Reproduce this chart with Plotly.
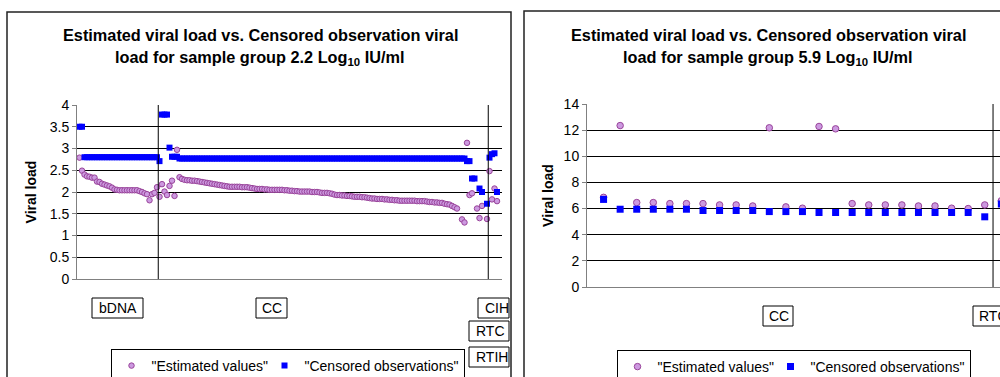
import plotly.graph_objects as go

# ---------------- data ----------------
# Left chart: sample group 2.2 Log10 IU/ml  (x = sample index)
left_x = list(range(1, 169))
left_estimated = [
    2.79, 2.49, 2.40, 2.36, 2.35, 2.33, 2.33, 2.24, 2.23, 2.19,   # 1-10
    2.17, 2.15, 2.13, 2.10, 2.06, 2.05, 2.04, 2.04, 2.04, 2.04,   # 11-20
    2.04, 2.04, 2.04, 2.04, 2.02, 2.00, 1.97, 1.95, 1.81, 1.95,   # 21-30
    1.98, 2.11, 1.89, 2.18, 2.01, 1.93, 2.14, 2.26, 1.91, 2.97,   # 31-40
    2.34, 2.30, 2.28, 2.27, 2.27, 2.26, 2.26, 2.25, 2.24, 2.23,   # 41-50
    2.22, 2.21, 2.20, 2.19, 2.18, 2.17, 2.16, 2.15, 2.14, 2.13,   # 51-60
    2.12, 2.12, 2.12, 2.12, 2.12, 2.11, 2.11, 2.11, 2.10, 2.09,   # 61-70
    2.08, 2.07, 2.07, 2.07, 2.06, 2.06, 2.05, 2.05, 2.05, 2.05,   # 71-80
    2.05, 2.05, 2.04, 2.04, 2.03, 2.03, 2.02, 2.02, 2.01, 2.01,   # 81-90
    2.01, 2.01, 2.01, 2.00, 2.00, 2.00, 1.99, 1.98, 1.98, 1.98,   # 91-100
    1.97, 1.96, 1.94, 1.93, 1.93, 1.92, 1.92, 1.91, 1.91, 1.90,   # 101-110
    1.89, 1.89, 1.89, 1.88, 1.88, 1.87, 1.86, 1.85, 1.85, 1.84,   # 111-120
    1.84, 1.84, 1.83, 1.83, 1.82, 1.82, 1.81, 1.81, 1.80, 1.80,   # 121-130
    1.80, 1.80, 1.80, 1.80, 1.80, 1.79, 1.79, 1.79, 1.79, 1.78,   # 131-140
    1.77, 1.77, 1.76, 1.76, 1.75, 1.75, 1.73, 1.72, 1.71, 1.68,   # 141-150
    1.65, 1.62, None, 1.37, 1.30, 3.13, 1.93, 1.97, None, 1.62,   # 151-160
    1.40, 1.68, None, 1.38, 2.48, 1.83, 2.08, 1.79,               # 161-168
]
left_censored = [
    3.50, 3.50, 2.80, 2.80, 2.80, 2.80, 2.80, 2.80, 2.80, 2.80,   # 1-10
    2.80, 2.80, 2.80, 2.80, 2.80, 2.80, 2.80, 2.80, 2.80, 2.80,   # 11-20
    2.80, 2.80, 2.80, 2.80, 2.80, 2.80, 2.80, 2.80, 2.80, 2.80,   # 21-30
    2.80, 2.80, 2.71, 3.78, 3.78, 3.78, 3.02, 2.81, 2.81, 2.81,   # 31-40
    2.77, 2.77, 2.77, 2.77, 2.77, 2.77, 2.77, 2.77, 2.77, 2.77,   # 41-50
    2.77, 2.77, 2.77, 2.77, 2.77, 2.77, 2.77, 2.77, 2.77, 2.77,   # 51-60
    2.77, 2.77, 2.77, 2.77, 2.77, 2.77, 2.77, 2.77, 2.77, 2.77,   # 61-70
    2.77, 2.77, 2.77, 2.77, 2.77, 2.77, 2.77, 2.77, 2.77, 2.77,   # 71-80
    2.77, 2.77, 2.77, 2.77, 2.77, 2.77, 2.77, 2.77, 2.77, 2.77,   # 81-90
    2.77, 2.77, 2.77, 2.77, 2.77, 2.77, 2.77, 2.77, 2.77, 2.77,   # 91-100
    2.77, 2.77, 2.77, 2.77, 2.77, 2.77, 2.77, 2.77, 2.77, 2.77,   # 101-110
    2.77, 2.77, 2.77, 2.77, 2.77, 2.77, 2.77, 2.77, 2.77, 2.77,   # 111-120
    2.77, 2.77, 2.77, 2.77, 2.77, 2.77, 2.77, 2.77, 2.77, 2.77,   # 121-130
    2.77, 2.77, 2.77, 2.77, 2.77, 2.77, 2.77, 2.77, 2.77, 2.77,   # 131-140
    2.77, 2.77, 2.77, 2.77, 2.77, 2.77, 2.77, 2.77, 2.77, 2.77,   # 141-150
    2.77, 2.77, 2.77, 2.77, 2.77, 2.71, 2.71, 2.31, 2.31, None,   # 151-160
    2.08, 2.00, None, 1.73, 2.79, 2.87, 2.89, 2.00,               # 161-168
]
left_group_bounds = [32.5, 164.5]
left_group_labels = ["bDNA", "CC", "CIH", "RTC", "RTIH"]
left_yticks = [0, 0.5, 1, 1.5, 2, 2.5, 3, 3.5, 4]

# Right chart: sample group 5.9 Log10 IU/ml
right_x = list(range(1, 26))
right_estimated = [6.86, 12.35, 6.46, 6.46, 6.38, 6.38, 6.38, 6.28, 6.28, 6.20,
                   12.18, 6.13, 6.03, 12.28, 12.10, 6.38, 6.28, 6.28, 6.28, 6.20,
                   6.20, 6.03, 6.00, 6.28, 6.60]
right_censored = [6.70, 5.95, 5.95, 5.95, 5.95, 5.95, 5.85, 5.85, 5.85, 5.85,
                  5.77, 5.77, 5.77, 5.70, 5.70, 5.70, 5.70, 5.70, 5.70, 5.70,
                  5.70, 5.70, 5.70, 5.37, 6.35]
right_group_bounds = [24.5]
right_group_labels = ["CC", "RTC"]
right_yticks = [0, 2, 4, 6, 8, 10, 12, 14]

series_names = ['"Estimated values"', '"Censored observations"']
left_title = ["Estimated viral load vs. Censored observation viral",
              "load for sample group 2.2 Log<sub>10</sub> IU/ml"]
right_title = ["Estimated viral load vs. Censored observation viral",
               "load for sample group 5.9 Log<sub>10</sub> IU/ml"]

# ---------------- styling ----------------
W, H = 1000, 377
FONT = "Liberation Sans, Arial, sans-serif"
EST_FILL = "#cc99e0"
EST_LINE = "#99449a"
CENS = "#0000ff"


def px(x):
    return x / W


def py(y):
    return 1 - y / H


fig = go.Figure()

for xs, est, cens, xa, ya, lg, csize, ssize in [
    (left_x, left_estimated, left_censored, "x", "y", "legend", 5.5, 6),
    (right_x, right_estimated, right_censored, "x2", "y2", "legend2", 6.5, 7),
]:
    fig.add_trace(go.Scatter(
        x=xs, y=est, mode="markers", name=series_names[0],
        marker=dict(symbol="circle", size=csize, color=EST_FILL,
                    line=dict(color=EST_LINE, width=1)),
        legendwidth=108,
        xaxis=xa, yaxis=ya, legend=lg))
    fig.add_trace(go.Scatter(
        x=xs, y=cens, mode="markers", name=series_names[1],
        marker=dict(symbol="square", size=ssize, color=CENS,
                    line=dict(width=0)),
        xaxis=xa, yaxis=ya, legend=lg))

xcommon = dict(showgrid=False, zeroline=False, showline=True, linecolor="#808080",
               linewidth=1, showticklabels=False, ticks="")
ycommon = dict(showgrid=True, gridcolor="#000000", gridwidth=1, zeroline=False,
               showline=True, linecolor="#808080", linewidth=1, ticks="outside",
               ticklen=4, tickcolor="#808080",
               tickfont=dict(family=FONT, size=14, color="#000"))
ytitle_font = dict(family=FONT, size=14, color="#000")
legcommon = dict(xanchor="center", yanchor="top", xref="container", yref="container",
                 orientation="h", bordercolor="#000", borderwidth=1,
                 bgcolor="white", font=dict(family=FONT, size=14, color="#000"))

fig.update_layout(
    width=W, height=H,
    margin=dict(l=0, r=0, t=0, b=0, autoexpand=False),
    paper_bgcolor="white", plot_bgcolor="white",
    font=dict(family=FONT, size=14, color="#000"),
    xaxis=dict(domain=[px(77), px(502)], range=[0, 170], anchor="y", **xcommon),
    yaxis=dict(domain=[py(279), py(105)], range=[0, 4], tickvals=left_yticks,
               anchor="x",
               title=dict(text="<b>Viral load</b>", standoff=9, font=ytitle_font),
               **ycommon),
    xaxis2=dict(domain=[px(587), 1.0], range=[0, 24.92], anchor="y2", **xcommon),
    yaxis2=dict(domain=[py(287), py(104)], range=[0, 14], tickvals=right_yticks,
                anchor="x2",
                title=dict(text="<b>Viral load</b>", standoff=6, font=ytitle_font),
                **ycommon),
    legend=dict(x=px(287.5), y=py(349), **legcommon),
    legend2=dict(x=px(793.5), y=py(350), **legcommon),
    showlegend=True,
)

# panel borders
fig.add_shape(type="rect", xref="paper", yref="paper",
              x0=px(7), x1=px(511), y0=-0.05, y1=py(12),
              line=dict(color="#222", width=1.5), layer="below")
fig.add_shape(type="rect", xref="paper", yref="paper",
              x0=px(524), x1=1.05, y0=-0.05, y1=py(11),
              line=dict(color="#222", width=1.5), layer="below")

# group separators
for b in left_group_bounds:
    fig.add_shape(type="line", xref="x", yref="y domain", x0=b, x1=b, y0=0, y1=1,
                  line=dict(color="#000", width=1))
for b in right_group_bounds:
    fig.add_shape(type="line", xref="x2", yref="y2 domain", x0=b, x1=b, y0=0, y1=1,
                  line=dict(color="#000", width=1))

# titles
for lines, cx in [(left_title, 260), (right_title, 768)]:
    for txt, cy in zip(lines, [35, 57.5]):
        fig.add_annotation(text="<b>" + txt + "</b>", xref="paper", yref="paper",
                           x=px(cx), y=py(cy), xanchor="center", yanchor="middle",
                           showarrow=False, font=dict(family=FONT, size=16.3, color="#000"))

# group label boxes (box left, right, top, bottom, text left)
label_boxes = [
    (left_group_labels[0], 92, 143, 298, 318, 96.5),
    (left_group_labels[1], 256, 287, 298, 318, 260),
    (left_group_labels[2], 478, 509, 298, 318, 482.5),
    (left_group_labels[3], 469, 509, 321, 341, 474),
    (left_group_labels[4], 469, 509, 347, 367, 474),
    (right_group_labels[0], 763, 793, 306, 326, 767),
    (right_group_labels[1], 973, 1015, 306, 326, 977),
]
for txt, x0, x1, y0, y1, tx in label_boxes:
    fig.add_shape(type="rect", xref="paper", yref="paper",
                  x0=px(x0), x1=px(x1), y0=py(y1), y1=py(y0),
                  line=dict(color="#000", width=1), fillcolor="white")
    fig.add_annotation(text=txt, xref="paper", yref="paper",
                       x=px(tx), y=py((y0 + y1) / 2), xanchor="left", yanchor="middle",
                       showarrow=False, font=dict(family=FONT, size=14, color="#000"))

fig.write_html("out.html")
